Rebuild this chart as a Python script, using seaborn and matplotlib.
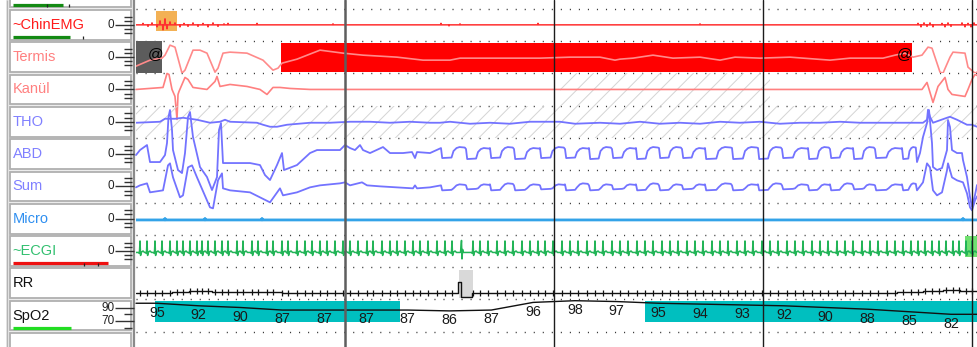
import numpy as np
import matplotlib
matplotlib.use("Agg")
import matplotlib.pyplot as plt
from matplotlib.patches import Rectangle
import seaborn as sns

sns.set_theme(style="white")
plt.rcParams["font.family"] = ["Liberation Sans", "DejaVu Sans"]
plt.rcParams["hatch.linewidth"] = 0.7

FS = 209 / 30.0      # samples per second of the decimated traces
N_SAMPLES = 841      # samples in the visible window

# ---------------------------------------------------------------- channels
channels = ["~ChinEMG", "Termis", "Kanül", "THO", "ABD", "Sum", "Micro", "~ECGI", "RR", "SpO2"]
label_colors = ["#ff1a1a", "#ff8080", "#ff8080", "#8080ff", "#8080ff", "#8080ff",
                "#2f8ff0", "#33c070", "#111111", "#111111"]

# ---------------------------------------------------------------- chin EMG bursts (sample, amplitude)
emg_idx = [7, 12, 16, 21, 24, 27, 29, 31, 34, 39, 44, 48, 52, 57, 62, 67, 72, 77, 82, 88, 92,
           121, 197, 305, 313, 324, 402, 564, 782, 785, 788, 791, 794, 797, 806, 809, 812,
           815, 826, 829, 832, 835, 838]
emg_amp = [1.5, -1.5, 2, -2, 4, -5, 6, -4, 3, 2, -2, 1.5, -1.5, 2, -1.5, 1.5, -2, 2, -1.5, 1, 1.5,
           1.5, 1, 1.5, -1, 1, 1.5, 1, 1.5, -2, 2, -1.5, 2, -2, 1.5, -2, 2, -1.5, 2, -2, 1.5, -2, 2]

# ---------------------------------------------------------------- nasal thermistor
termis_idx = [0, 14, 26, 29, 34, 39, 46, 49, 57, 64, 71, 79, 82, 87, 94, 111, 127, 137, 142, 146,
              161, 184, 207, 227, 261, 287, 314, 324, 404, 434, 464, 479, 484, 497, 517, 537,
              564, 584, 599, 624, 654, 694, 714, 747, 759, 769, 777, 786, 792, 796, 804, 807,
              814, 817, 829, 832, 839, 841]
termis_val = [-9, -3, -1, 2, 12, 10, -16, -13, 7, 7, 4, -15, -11, 4, 5, 4, -3, -13, -11, -6,
              -2, 7, 4, 2, 0, -3, -3, -1, -1, 0, 0, -3, -2, -1, 2, -1,
              0, -3, 0, -1, 0, -3, -1, -1, 2, 4, 0, 2, 10, 9, -15, -16,
              0, 5, 4, -10, -16, -15]

# ---------------------------------------------------------------- nasal cannula pressure
kanul_idx = [0, 27, 31, 33, 36, 39, 41, 42, 43, 49, 52, 57, 71, 79, 81, 84, 94, 111, 124, 131,
             137, 144, 154, 174, 786, 791, 794, 797, 802, 809, 812, 816, 829, 832, 836, 839, 841]
kanul_val = [0, 2, 16, 15, 0, -7, -30, -5, -2, 12, 10, 2, 0, 8, 13, 3, 5, 3, 0, -5,
             2, 2, 1, 0, 0, 7, -3, -13, 3, 12, 0, -5, -7, 0, 10, 15, 14]

# ---------------------------------------------------------------- thoracic belt
tho_idx = [0, 24, 29, 39, 47, 61, 74, 84, 89, 94, 121, 127, 134, 141, 151, 174, 194, 214, 234,
           254, 274, 294, 304, 314, 334, 354, 374, 394, 424, 439, 464, 484, 504, 524, 544, 564,
           584, 604, 624, 644, 664, 684, 704, 724, 744, 764, 787, 791, 792, 794, 797, 811, 814,
           821, 831, 836, 841]
tho_val = [-1, 0, 3, 3, 4, 2, -1, 0, 2, 0, -1, -3, -5, -5, -3, -1, -1, 0, 0,
           -1, 0, -1, -1, 0, -2, -1, -2, 0, 0, -2, -1, -2, 0, -2, -1, -2,
           0, -1, 0, -2, -1, -1, 0, -1, -1, -1, -1, 2, 12, 5, -1, 4, 5,
           2, -3, -3, -5]

# ---------------------------------------------------------------- abdominal belt
abd_idx = [0, 4, 11, 14, 24, 29, 31, 32.5, 34, 36, 37, 42, 46, 49, 52, 54, 57, 64, 71, 76, 81,
           83, 85, 87, 94, 114, 124, 129, 134, 141, 146, 148, 161, 174, 181, 204, 209, 214, 219,
           224, 227, 234, 247, 254, 267, 276, 279, 281, 294]
abd_val = [-1, 4, 9, -8, -8, -1, 11, 37, 44, 24, 4, -16, -19, 1, 37, 42, 17, -13, -23, -36, -23,
           24, 31, -9, -9, -9, -11, -21, -26, -11, 1, -16, -11, 1, 4, 4, 9, 6, 4,
           9, 4, 1, 7, 1, 1, 2, -4, 2, 1]
abd_tail_idx = [781, 784, 787, 791, 793, 796, 797, 801, 806, 811, 812, 814, 816, 821, 826, 827,
                831, 834, 836, 839, 841]
abd_tail_val = [-8, 1, 17, 31, 44, 11, -13, -16, -14, 4, 34, 27, 4, 1, 1, -6, -23, -43, -53,
                -41, -31]

# ---------------------------------------------------------------- sum channel
sum_idx = [0, 4, 11, 14, 27, 32, 34, 37, 44, 47, 52, 56, 61, 74, 77, 82, 86, 87, 94, 114, 124,
           134, 144, 147, 161, 174, 184, 204, 209, 214, 226, 231, 244, 261, 277, 279, 281, 294]
sum_val = [-1, 1, 3, -6, -4, 21, 23, 9, -11, -9, 19, 21, 9, -21, -22, 6, 13, -2, -4, -6, -11,
           -16, -2, -9, -6, -1, 1, 3, 4, 1, 4, 1, 0, -1, -2, 1, -2, -1]
sum_tail_idx = [781, 787, 791, 794, 797, 801, 806, 811, 812, 816, 821, 827, 831, 834, 836, 839, 841]
sum_tail_val = [-4, 4, 23, 19, -4, -9, -6, 16, 23, 9, 6, 4, -7, -21, -24, -14, -10]

# breaths of the regular section: onset of the fall, belt high and low levels
breath_idx = [305, 330, 354, 378, 404, 429, 453, 476, 500, 523, 546, 569, 596, 622, 646, 672,
              694, 717, 739, 766]
abd_hi = [7, 6, 7, 6, 7, 6, 7, 6, 7, 7, 6, 7, 7, 7, 6, 7, 6, 7, 6, 7]
abd_lo = [-4, -5, -4, -5, -4, -4, -5, -4, -5, -4, -4, -5, -5, -5, -4, -5, -4, -5, -4, -5]
sum_hi = [2, 2, 3, 2, 2, 3, 2, 2, 3, 2, 2, 3, 2, 3, 2, 2, 3, 2, 2, 3]
sum_lo = [-4, -3, -4, -4, -3, -4, -4, -3, -4, -4, -3, -4, -4, -4, -3, -4, -4, -3, -4, -4]

# ---------------------------------------------------------------- ECG R-peaks (samples)
ecg_beats = [4, 11, 19, 26, 34, 41, 47, 54, 61, 66, 72, 79, 86, 92, 101, 107, 116, 122, 131, 137,
             146, 152, 161, 169, 176, 184, 191, 199, 207, 214, 222, 231, 237, 246, 254, 261,
             269, 277, 284, 292, 301, 309, 316, 337, 344, 352, 361, 369, 377, 386, 394, 402,
             409, 417, 426, 434, 442, 451, 459, 467, 476, 484, 492, 501, 509, 517, 526, 534,
             542, 551, 559, 567, 576, 584, 592, 601, 609, 617, 626, 634, 642, 651, 659, 667,
             676, 684, 692, 701, 709, 717, 726, 734, 742, 751, 759, 767, 775, 782, 789, 796,
             803, 810, 817, 823, 830, 836]
ecg_artifact = [326]

# ---------------------------------------------------------------- RR trend (step starts, level)
rr_idx = [0, 36, 53, 76, 86, 146, 322, 325, 336, 761, 787, 807, 824]
rr_val = [-10, -9, -7.8, -8.4, -9, -10, 1.5, -13.5, -10, -9, -7.8, -6.8, -7.4]

# ---------------------------------------------------------------- SpO2 readings every 6 s
spo2_time = [3, 9, 15, 21, 27, 33, 39, 45, 51, 57, 63, 69, 75, 81, 87, 93, 99, 105, 111, 117]
spo2_val = [95, 92, 90, 87, 87, 87, 87, 86, 87, 96, 98, 97, 95, 94, 93, 92, 90, 88, 85, 82]

# ---------------------------------------------------------------- scored events (start, end samples)
emg_event = (19.5, 40.5)
termis_artifact = (0, 26)
termis_apnea = (145, 776)
rr_artifact = (323, 337)
ecg_event = (829, 841)
kanul_hatch = (424, 634)
desat_events = [(19, 264), (509, 841)]

# ---------------------------------------------------------------- layout
W, H = 977, 347
LEFT = 136
ROW_TOP = 8.7
ROW_H = 32.3
HALF = ROW_H / 2
T_END = N_SAMPLES / FS

fig = plt.figure(figsize=(W / 100, H / 100), dpi=100)
fig.patch.set_facecolor("white")


def t(idx):
    return np.asarray(idx, dtype=float) / FS


def plain(ax):
    ax.set_facecolor("none")
    ax.set_xticks([])
    ax.set_yticks([])
    for s in ax.spines.values():
        s.set_visible(False)
    ax.set_xlabel("")
    ax.set_ylabel("")


# background: dotted row separators
ax_bg = fig.add_axes([LEFT / W, 0, (W - LEFT) / W, 1])
ax_bg.set_xlim(0, T_END)
ax_bg.set_ylim(H, 0)
plain(ax_bg)
bounds = [ROW_TOP + k * ROW_H for k in range(11)]
ax_bg.hlines(bounds, 0, T_END, colors="#3a3a3a", lw=1.0, linestyles=[(0, (0.8, 5.7))])

rows = []
for i in range(10):
    top = ROW_TOP + i * ROW_H
    ax = fig.add_axes([LEFT / W, 1 - (top + ROW_H) / H, (W - LEFT) / W, ROW_H / H])
    rows.append(ax)


def trace(ax, x, y, color, lw=1.2, clip=True, z=3):
    sns.lineplot(x=x, y=y, ax=ax, color=color, lw=lw, estimator=None, sort=False,
                 clip_on=clip, zorder=z)


def spike_trace(idx, amp, w=0.5):
    xs, ys = [0.0], [0.0]
    for i, a in sorted(zip(idx, amp)):
        xs += [i - w, i, i + w]
        ys += [0.0, a, 0.0]
    xs.append(N_SAMPLES)
    ys.append(0.0)
    return t(xs), np.array(ys)


def breath_trace(head_idx, head_val, tail_idx, tail_val, hi, lo):
    # each breath: fall at its onset, flat trough, steep rise easing into a short plateau
    xs, ys = list(head_idx), list(head_val)
    for k, b in enumerate(breath_idx):
        nxt = breath_idx[k + 1] if k + 1 < len(breath_idx) else tail_idx[0]
        g = nxt - b
        xs += [b, b + 1.2, b + 0.42 * g, b + 0.5 * g, b + 0.62 * g, b + 0.74 * g, nxt - 1.2]
        ys += [hi[k] - 1, lo[k], lo[k] + 0.5, hi[k] - 4, hi[k] - 1, hi[k], hi[k] - 0.5]
    xs += list(tail_idx)
    ys += list(tail_val)
    return t(xs), np.array(ys, dtype=float)


# ChinEMG
ax = rows[0]
ax.add_patch(Rectangle((t(emg_event[0]), -5.9), t(emg_event[1]) - t(emg_event[0]), 20.0,
                       facecolor="#f3b155", edgecolor="none", zorder=1))
x, y = spike_trace(emg_idx, emg_amp)
trace(ax, x, y, "#ff3030", lw=1.1)

# Termis
ax = rows[1]
ax.add_patch(Rectangle((t(termis_artifact[0]), -HALF), t(termis_artifact[1]) - t(termis_artifact[0]),
                       ROW_H, facecolor="#5c5c5c", edgecolor="none", zorder=1))
ax.add_patch(Rectangle((t(termis_apnea[0]), -14.5), t(termis_apnea[1]) - t(termis_apnea[0]), 28.5,
                       facecolor="#ff0000", edgecolor="none", zorder=1))
trace(ax, t(termis_idx), termis_val, "#ff8a8a", lw=1.2)
ax.text(t(20), 3, "@", fontsize=11, color="black", ha="center", va="center", zorder=5)
ax.text(t(769), 3, "@", fontsize=11, color="black", ha="center", va="center", zorder=5)

# Kanül
ax = rows[2]
ax.axvspan(t(kanul_hatch[0]), t(kanul_hatch[1]), facecolor="none", edgecolor="#d4d4d4",
           hatch="//", lw=0, zorder=1)
trace(ax, t(kanul_idx), kanul_val, "#ff8080", lw=1.2, clip=False)

# THO
ax = rows[3]
ax.axvspan(0, T_END, facecolor="none", edgecolor="#d4d4d4", hatch="//", lw=0, zorder=1)
trace(ax, t(tho_idx), tho_val, "#7373ff", lw=1.3)

# ABD
ax = rows[4]
x, y = breath_trace(abd_idx, abd_val, abd_tail_idx, abd_tail_val, abd_hi, abd_lo)
trace(ax, x, y, "#7373ff", lw=1.3, clip=False)

# Sum
ax = rows[5]
x, y = breath_trace(sum_idx, sum_val, sum_tail_idx, sum_tail_val, sum_hi, sum_lo)
trace(ax, x, y, "#7373ff", lw=1.3, clip=False)

# Micro
ax = rows[6]
mx, my = spike_trace([29, 69, 126, 827], [1.5, 1.5, 1.5, 1.5], w=0.3)
trace(ax, mx, my - 1.3, "#33a3e8", lw=2.0)

# ECG
ax = rows[7]
ax.add_patch(Rectangle((t(ecg_event[0]), -6.0), t(ecg_event[1]) - t(ecg_event[0]), 20.5,
                       facecolor="#70e070", edgecolor="none", zorder=1))
ex, ey = [0.0], [-1.5]
beats_all = sorted([(b, "n") for b in ecg_beats] + [(b, "a") for b in ecg_artifact])
for b, kind in beats_all:
    if kind == "n":
        dx = [-1.5, -0.6, 0.0, 0.6, 1.2, 3.0, 4.5]
        dy = [0.0, -1.0, 11.5, -3.0, 0.0, 1.5, 0.0]
    else:
        dx = [-1.5, -0.5, 0.0, 0.6, 1.2, 2.5]
        dy = [0.0, 12.0, -6.5, 3.0, 0.0, 0.0]
    ex += [b + d for d in dx]
    ey += [v - 1.5 for v in dy]
ex.append(N_SAMPLES)
ey.append(-1.5)
trace(ax, t(ex), ey, "#22b457", lw=1.1)

# RR
ax = rows[8]
ax.add_patch(Rectangle((t(rr_artifact[0]), -15), t(rr_artifact[1]) - t(rr_artifact[0]), 28.3,
                       facecolor="#d9d9d9", edgecolor="none", zorder=1))
rr_x = list(rr_idx) + [N_SAMPLES]
rr_y = list(rr_val) + [rr_val[-1]]
ax.plot(t(rr_x), rr_y, color="#111111", lw=1.0, drawstyle="steps-post", zorder=3)
lv = np.array(rr_val)[np.searchsorted(rr_idx, ecg_beats, side="right") - 1]
ax.vlines(t(ecg_beats), lv - 3.2, lv + 3.0, colors="#111111", lw=0.9, zorder=3)

# SpO2
ax = rows[9]
for a, b in desat_events:
    ax.add_patch(Rectangle((t(a), 73.3), t(b) - t(a), 23.9, facecolor="#00bfbf",
                           edgecolor="none", zorder=1))
sx = [0.0] + spo2_time + [T_END]
sy = [spo2_val[0]] + spo2_val + [spo2_val[-1]]
trace(ax, sx, sy, "#111111", lw=1.0, clip=False)
for tt, v in zip(spo2_time, spo2_val):
    ax.annotate(str(v), (tt, v), xytext=(0, -6.8), textcoords="offset points", ha="center",
                va="center", fontsize=10.3, color="#1a1a1a", annotation_clip=False, zorder=5)

for i, ax in enumerate(rows):
    ax.set_xlim(0, T_END)
    if i == 9:
        ax.set_ylim(98 - (ROW_H - 1.3) / 0.85, 98 + 1.3 / 0.85)
    else:
        ax.set_ylim(-HALF, HALF)
    plain(ax)

# foreground: epoch markers every 30 s
ax_fg = fig.add_axes([LEFT / W, 0, (W - LEFT) / W, 1])
ax_fg.set_xlim(0, T_END)
ax_fg.set_ylim(H, 0)
plain(ax_fg)
ax_fg.axvline(30, color="#5e5e5e", lw=1.8)
for ep in (60, 90, 120):
    ax_fg.axvline(ep, color="#1c1c1c", lw=1.0)

# ---------------------------------------------------------------- channel label panel
axl = fig.add_axes([0, 0, LEFT / W, 1])
axl.set_xlim(0, LEFT)
axl.set_ylim(H, 0)
plain(axl)
axl.add_patch(Rectangle((6, -2), 128, H + 4, facecolor="#ececec", edgecolor="none"))
axl.vlines(6.5, 0, H, colors="#b4b4b4", lw=1.0)
axl.vlines(133.5, 0, H, colors="#8a8a8a", lw=1.6)

box_tops = [ROW_TOP - ROW_H] + bounds
for k, top in enumerate(box_tops):
    axl.add_patch(Rectangle((10, top + 1.3), 121, ROW_H - 2.6, facecolor="white",
                            edgecolor="#b0b0b0", lw=1.3))

for i, name in enumerate(channels):
    cy = ROW_TOP + (i + 0.5) * ROW_H
    axl.text(12.5, cy, name, fontsize=10.5, color=label_colors[i], ha="left", va="center")
    if name == "RR":
        continue
    if name == "SpO2":
        for lab, yy in (("90", cy - 8.0), ("70", cy + 5.8)):
            axl.text(108, yy, lab, fontsize=8.5, color="#222222", ha="center", va="center")
            axl.hlines(yy, 115, 134, colors="#333333", lw=1.0)
        axl.hlines([cy - 1.2, cy + 12.5], 124, 132, colors="#333333", lw=1.0)
        continue
    axl.text(111, cy, "0", fontsize=8.5, color="#222222", ha="center", va="center")
    axl.hlines(cy, 114.5, 134, colors="#333333", lw=1.0)
    axl.hlines([cy - 8.3, cy - 4.2, cy + 4.2, cy + 8.3], 124, 132, colors="#333333", lw=1.0)

# gain bars under the labels
bars = [(4.6, 13, 63, "#138a13"), (ROW_TOP + 0.5 * ROW_H + 12, 13, 70, "#138a13"),
        (ROW_TOP + 7.5 * ROW_H + 12.5, 13, 108, "#ee1111"),
        (ROW_TOP + 9.5 * ROW_H + 12.3, 13, 71, "#22dd22")]
for yy, x0, x1, c in bars:
    axl.hlines(yy, x0, x1, colors=c, lw=2.3)
axl.vlines([47, 69], 3.5, 6.5, colors="#222222", lw=0.9)
axl.vlines([83], ROW_TOP + 0.5 * ROW_H + 11, ROW_TOP + 0.5 * ROW_H + 14.5, colors="#222222", lw=0.9)
axl.vlines([84, 98], ROW_TOP + 7.5 * ROW_H + 12, ROW_TOP + 7.5 * ROW_H + 15, colors="#222222", lw=0.9)

fig.savefig("out.png", dpi=100, facecolor="white")
